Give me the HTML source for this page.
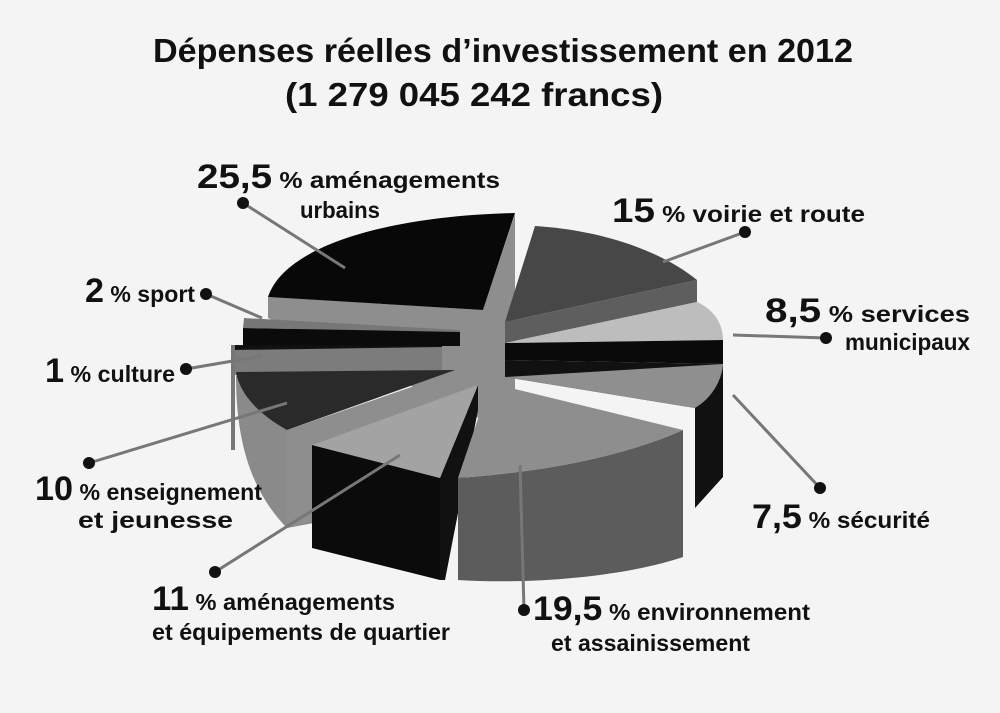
<!DOCTYPE html>
<html><head><meta charset="utf-8"><style>
html,body{margin:0;padding:0;background:#f4f4f4}
svg{display:block}
text{font-family:"Liberation Sans Narrow","Liberation Sans",sans-serif;font-weight:bold;fill:#111}
.b{font-size:34px}.s{font-size:23px}.t{font-size:33px}
</style></head><body>
<svg width="1000" height="713" viewBox="0 0 1000 713" xmlns="http://www.w3.org/2000/svg">
<rect width="1000" height="713" fill="#f4f4f4"/>
<text class="t" x="153" y="62" textLength="700" lengthAdjust="spacingAndGlyphs">Dépenses réelles d’investissement en 2012</text>
<text class="t" x="285" y="106" textLength="378" lengthAdjust="spacingAndGlyphs">(1 279 045 242 francs)</text>

<polygon points="268,297 483,310 515,214 515,407 483,420 268,318" fill="#8e8e8e"/>
<path d="M268,297 C285,245 390,216 515,213 L483,310 Z" fill="#080808"/>
<path d="M535,226 C600,230 660,250 697,280 L505,322 Z" fill="#474747"/>
<polygon points="505,322 697,280 697,302 505,343" fill="#5e5e5e"/>
<path d="M505,343 L697,302 C715,310 723,325 723,340 Z" fill="#bdbdbd"/>
<polygon points="505,343 723,340 723,364 505,360" fill="#0a0a0a"/>
<polygon points="505,360 505,377 695,408 695,508 723,477 723,364" fill="#111"/>
<path d="M505,377 L723,364 C722,380 712,398 695,408 Z" fill="#8f8f8f"/>
<path d="M236,375 C236,440 250,490 287,528 L330,520 L330,430 L287,430 Z" fill="#8a8a8a"/>
<polygon points="287,430 455,372 455,480 287,528" fill="#8e8e8e"/>
<polygon points="244,318 460,330 460,332 243,328" fill="#777"/>
<polygon points="243,328 460,332 460,346 243,346" fill="#0b0b0b"/>
<polygon points="233,345 442,346 442,350 233,350" fill="#111"/>
<polygon points="233,350 442,347 442,370 233,375" fill="#7c7c7c"/>
<rect x="231" y="345" width="4" height="105" fill="#777"/>
<path d="M236,372 L455,370 L287,430 C260,415 240,395 236,372 Z" fill="#2a2a2a"/>
<polygon points="312,445 440,478 440,580 312,548" fill="#0b0b0b"/>
<polygon points="440,478 478,385 478,410 445,580 440,580" fill="#111"/>
<polygon points="478,385 440,478 312,445" fill="#a3a3a3"/>
<path d="M458,478 L458,580 C540,585 630,575 683,557 L683,430 C620,458 540,472 458,478 Z" fill="#5c5c5c"/>
<path d="M490,383 L683,430 C620,458 540,472 458,478 Z" fill="#8e8e8e"/>

<g stroke="#777" stroke-width="3">
<line x1="243" y1="203" x2="345" y2="268"/>
<line x1="745" y1="232" x2="663" y2="262"/>
<line x1="826" y1="338" x2="733" y2="335"/>
<line x1="206" y1="294" x2="262" y2="318"/>
<line x1="186" y1="369" x2="262" y2="356"/>
<line x1="89" y1="463" x2="287" y2="403"/>
<line x1="820" y1="488" x2="733" y2="395"/>
<line x1="215" y1="572" x2="400" y2="455"/>
<line x1="524" y1="610" x2="520" y2="465"/>
</g>
<g fill="#111">
<circle cx="243" cy="203" r="6"/><circle cx="745" cy="232" r="6"/><circle cx="826" cy="338" r="6"/>
<circle cx="206" cy="294" r="6"/><circle cx="186" cy="369" r="6"/><circle cx="89" cy="463" r="6"/>
<circle cx="820" cy="488" r="6"/><circle cx="215" cy="572" r="6"/><circle cx="524" cy="610" r="6"/>
</g>

<text x="197" y="188" textLength="303" lengthAdjust="spacingAndGlyphs"><tspan class="b">25,5</tspan><tspan class="s"> % aménagements</tspan></text>
<text class="s" x="300" y="218" textLength="80" lengthAdjust="spacingAndGlyphs">urbains</text>
<text x="612" y="222" textLength="253" lengthAdjust="spacingAndGlyphs"><tspan class="b">15</tspan><tspan class="s"> % voirie et route</tspan></text>
<text x="765" y="322" textLength="205" lengthAdjust="spacingAndGlyphs"><tspan class="b">8,5</tspan><tspan class="s"> % services</tspan></text>
<text class="s" x="845" y="350" textLength="125" lengthAdjust="spacingAndGlyphs">municipaux</text>
<text x="85" y="302" textLength="110" lengthAdjust="spacingAndGlyphs"><tspan class="b">2</tspan><tspan class="s"> % sport</tspan></text>
<text x="45" y="382" textLength="130" lengthAdjust="spacingAndGlyphs"><tspan class="b">1</tspan><tspan class="s"> % culture</tspan></text>
<text x="35" y="500" textLength="227" lengthAdjust="spacingAndGlyphs"><tspan class="b">10</tspan><tspan class="s"> % enseignement</tspan></text>
<text class="s" x="78" y="528" textLength="155" lengthAdjust="spacingAndGlyphs">et jeunesse</text>
<text x="752" y="528" textLength="178" lengthAdjust="spacingAndGlyphs"><tspan class="b">7,5</tspan><tspan class="s"> % sécurité</tspan></text>
<text x="152" y="610" textLength="243" lengthAdjust="spacingAndGlyphs"><tspan class="b">11</tspan><tspan class="s"> % aménagements</tspan></text>
<text class="s" x="152" y="640" textLength="298" lengthAdjust="spacingAndGlyphs">et équipements de quartier</text>
<text x="533" y="620" textLength="277" lengthAdjust="spacingAndGlyphs"><tspan class="b">19,5</tspan><tspan class="s"> % environnement</tspan></text>
<text class="s" x="551" y="651" textLength="199" lengthAdjust="spacingAndGlyphs">et assainissement</text>
</svg>
</body></html>
